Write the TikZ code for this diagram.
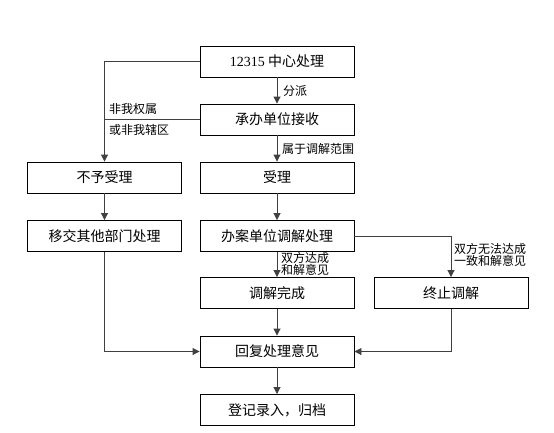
\documentclass[tikz,border=0pt]{standalone}
\usepackage{fontspec}
\newfontfamily\cjk{Noto Sans CJK SC}
\newfontfamily\latn{Liberation Serif}
\usetikzlibrary{arrows.meta}
\begin{document}
\begin{tikzpicture}[x=1pt,y=-1pt,
  box/.style={draw,line width=0.9pt,minimum width=154pt,minimum height=31pt,inner sep=0pt,font=\cjk\fontsize{14}{15}\selectfont},
  conn/.style={line width=0.9pt,draw=black!75},
  arr/.style={conn,-{Triangle[length=7pt,width=7pt]}},
  lbl/.style={font=\cjk\fontsize{12}{12.5}\selectfont,inner sep=0pt,align=left}]
\useasboundingbox (0,0) rectangle (554,432);
\node[box] (n1) at (277,61.5) {{\latn 12315} 中心处理};
\node[box] (n2) at (277,119.5) {承办单位接收};
\node[box] (n3) at (104.5,177.5) {不予受理};
\node[box] (n4) at (277,177.5) {受理};
\node[box] (n5) at (104.5,236) {移交其他部门处理};
\node[box] (n6) at (277,236) {办案单位调解处理};
\node[box] (n7) at (277,293) {调解完成};
\node[box] (n8) at (451,293) {终止调解};
\node[box] (n9) at (277,351.5) {回复处理意见};
\node[box] (n10) at (277,410) {登记录入，归档};
\draw[arr] (n1.south) -- (n2.north);
\node[lbl,anchor=west] (l1) at (283,91) {分派};
\draw[arr] (n2.south) -- (n4.north);
\node[lbl,anchor=west] (l2) at (282,149) {属于调解范围};
\draw[arr] (n1.west) -| (n3.north);
\draw[conn] (n2.west) -- (n2.west -| n3.north);
\node[lbl,anchor=west] (l3) at (109,109) {非我权属};
\node[lbl,anchor=west] (l4) at (109,130) {或非我辖区};
\draw[arr] (n3.south) -- (n5.north);
\draw[arr] (n4.south) -- (n6.north);
\draw[arr] (n6.south) -- (n7.north);
\node[lbl,anchor=west] (l5) at (281,264) {双方达成\\和解意见};
\draw[arr] (n6.east) -| (n8.north);
\node[lbl,anchor=west] (l6) at (454,255) {双方无法达成\\一致和解意见};
\draw[arr] (n7.south) -- (n9.north);
\draw[arr] (n5.south) |- (n9.west);
\draw[arr] (n8.south) |- (n9.east);
\draw[arr] (n9.south) -- (n10.north);
\end{tikzpicture}
\end{document}
